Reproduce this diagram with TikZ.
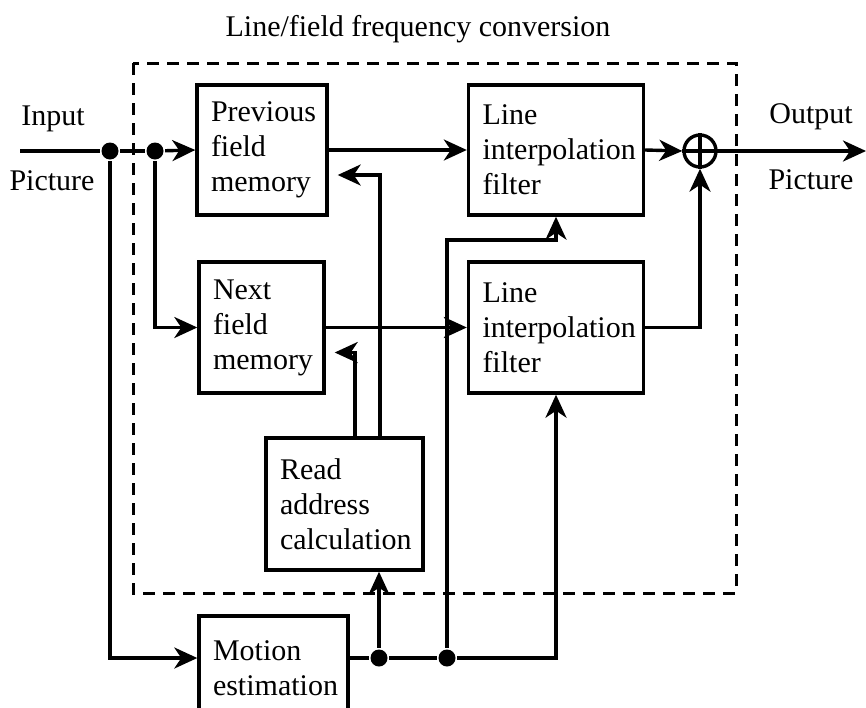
\documentclass[tikz,border=0pt]{standalone}
\usepackage{fontspec}
\setmainfont{Liberation Serif}
\usetikzlibrary{arrows.meta,calc}

\begin{document}
\begin{tikzpicture}[x=1pt,y=-1pt,
  line width=3.4pt,
  >={Stealth[length=23pt,width=21pt,inset=7pt]},
  every node/.style={font=\fontsize{30}{35}\selectfont},
  block/.style={draw, line width=3.4pt, align=left, inner xsep=14pt, inner ysep=0pt,
                rectangle},
  junction/.style={circle, fill=black, minimum size=17pt, inner sep=0pt},
  adder/.style={circle, draw, line width=3.4pt, minimum size=32pt, inner sep=0pt},
  lbl/.style={anchor=base, inner sep=0pt},
  frame/.style={dash pattern=on 12pt off 8pt, line width=3pt}
]
\useasboundingbox (0,0) rectangle (866,707);
\clip (0,0) rectangle (866,707);

% title and dashed frame of the conversion unit
\node[lbl] (title) at (418,36) {Line/field frequency conversion};
\draw[frame] (133,63) rectangle (736,593);

% processing blocks
\node[block, minimum width=130pt, minimum height=130pt, text width=102pt] (prev) at (262,150)
  {Previous\\field\\memory};
\node[block, minimum width=125pt, minimum height=131pt, text width=97pt] (next) at (261.5,327.5)
  {Next\\field\\memory};
\node[block, minimum width=175pt, minimum height=130pt, text width=147pt] (lif1) at (556,150)
  {Line\\interpolation\\filter};
\node[block, minimum width=175pt, minimum height=131pt, text width=147pt] (lif2) at (556,327.5)
  {Line\\interpolation\\filter};
\node[block, minimum width=157pt, minimum height=132pt, text width=129pt] (read) at (344.5,504)
  {Read\\address\\calculation};
\node[block, minimum width=149pt, minimum height=104pt, text width=121pt] (motion) at (273.5,668)
  {Motion\\estimation};

% summing point
\node[adder] (add) at (700,151) {};
\draw (add.north) -- (add.south) (add.west) -- (add.east);

% input and output labels
\node[lbl] (inA) at (53,125) {Input};
\node[lbl] (inB) at (52,190) {Picture};
\node[lbl] (outA) at (811,123) {Output};
\node[lbl] (outB) at (811,189) {Picture};

% junction points and free ends
\coordinate (src) at (20,151);
\coordinate (dst) at (866,151);
\node[junction] (d1) at (110,151) {};
\node[junction] (d2) at (155,151) {};
\node[junction] (d3) at (379,658) {};
\node[junction] (d4) at (447,658) {};
\coordinate (jog) at (447,240);

% input distribution
\draw (src) -- (d1) -- (d2);
\draw[->] (d2) -- (prev.west);
\draw[->] (d2) |- (next.west);
\draw[->] (d1) |- (d3 -| motion.west);

% motion vectors
\draw (d3 -| motion.east) -- (d3) -- (d4);
\draw[->] (d3) -- (d3 |- read.south);
\draw[->] (d4) -| (lif2.south);
\draw[->] (d4) -- (jog) -| (lif1.south);

% read addresses to the field memories
\draw[->] ([xshift=10.5pt]read.north) |- ([xshift=9pt,yshift=-25pt]next.east);
\draw[->] ([xshift=35.5pt]read.north) |- ([xshift=9pt,yshift=-25pt]prev.east);

% picture path
\draw[->] (prev.east) -- (lif1.west);
\draw[->] (next.east) -- (lif2.west);
\draw[->] (lif1.east) -- (add.west);
\draw[->] (lif2.east) -| (add.south);
\draw[->] (add.east) -- (dst);
\end{tikzpicture}
\end{document}
